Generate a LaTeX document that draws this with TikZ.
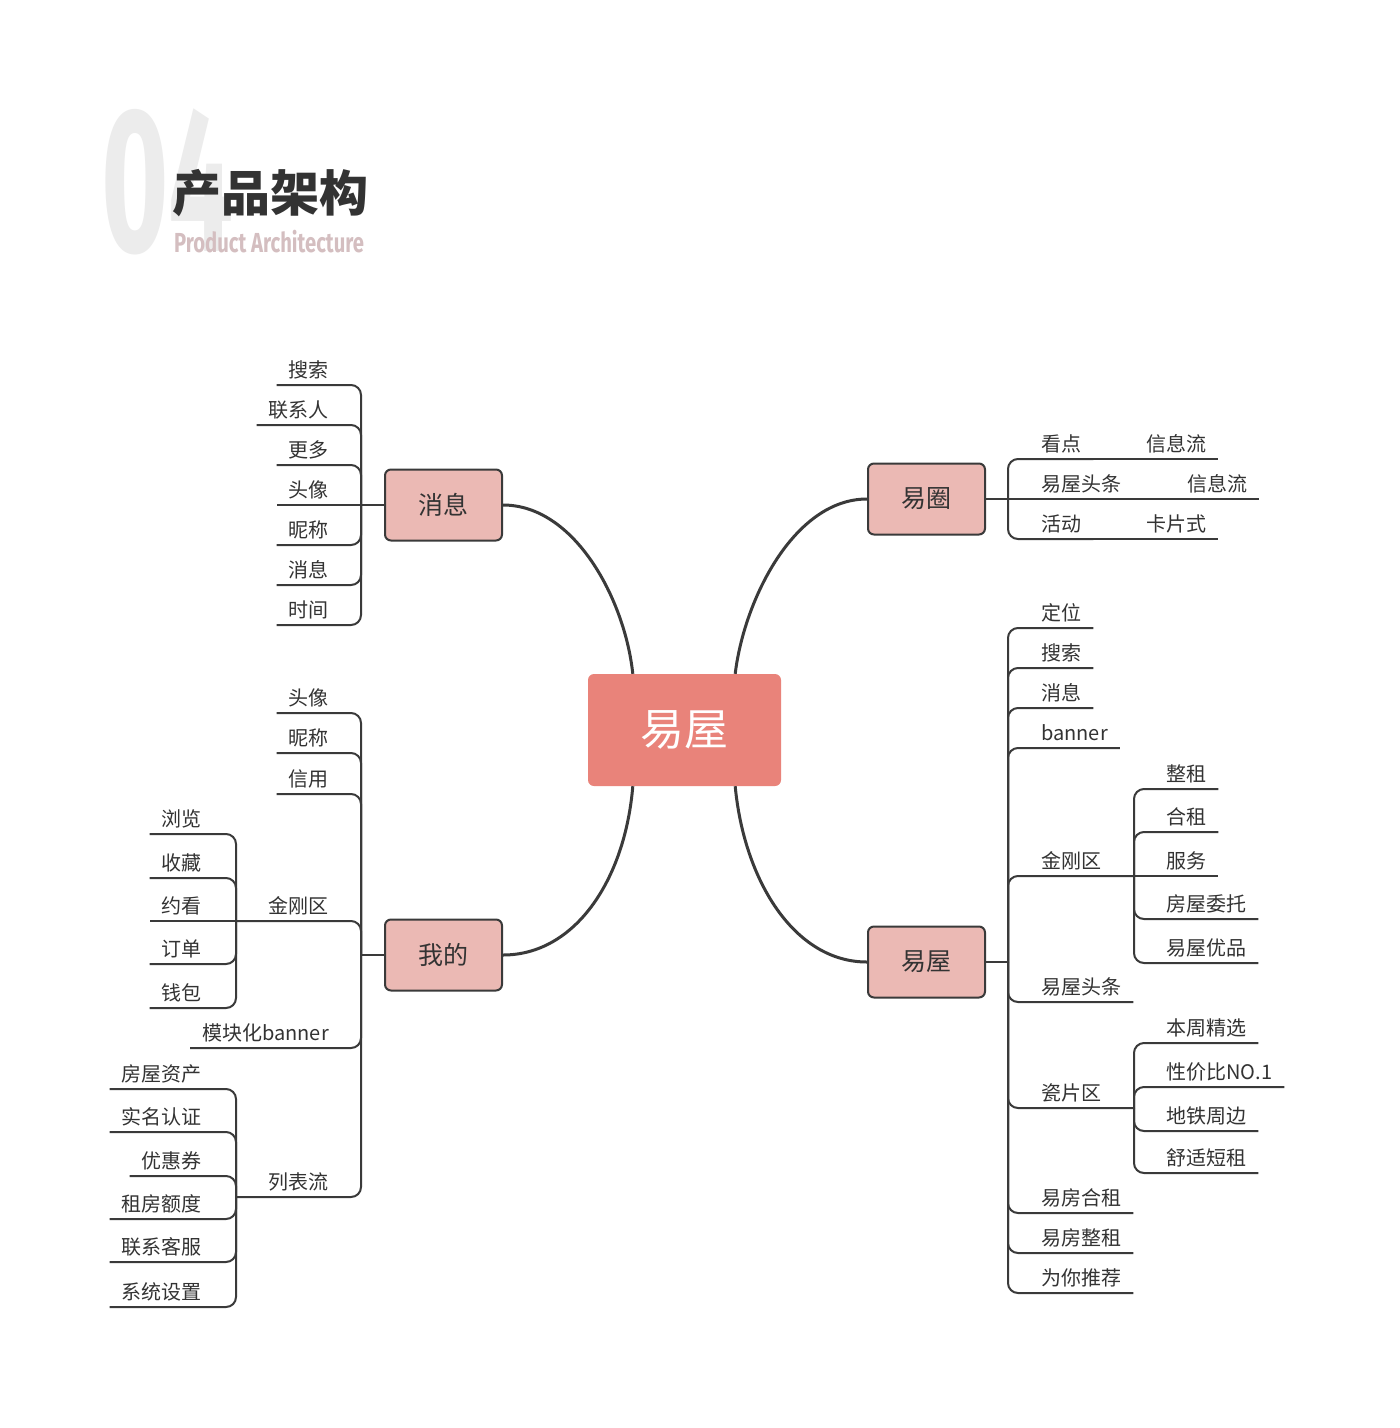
\documentclass[tikz,border=0pt]{standalone}
\usepackage{fontspec}
\usepackage{graphicx}
\setmainfont{Noto Sans CJK SC}
\newfontfamily\latinfont{Fira Sans}
\usepackage{tikz}
\definecolor{hubred}{RGB}{233, 131, 122}
\definecolor{topicpink}{RGB}{235, 185, 180}
\definecolor{linegray}{RGB}{58, 58, 58}
\definecolor{textgray}{RGB}{51, 51, 51}
\definecolor{numgray}{RGB}{236, 236, 236}
\definecolor{subpink}{RGB}{212, 190, 192}

\begin{document}
\begin{tikzpicture}[
    x=1pt, y=-1pt,
    hub/.style={rectangle, rounded corners=6pt, fill=hubred, text=white, minimum width=193pt, minimum height=112pt, font=\fontsize{44}{50}\selectfont},
    topic/.style={rectangle, rounded corners=6pt, draw=linegray, line width=2pt, fill=topicpink, text=textgray, minimum width=117pt, minimum height=71pt, font=\fontsize{25}{30}\selectfont},
    leafl/.style={anchor=south east, inner xsep=12pt, inner ysep=3pt, text height=17pt, text depth=4pt, text=textgray, font=\fontsize{20}{24}\selectfont},
    leafr/.style={leafl, anchor=south west},
    branch/.style={draw=linegray, line width=2pt, rounded corners=10pt},
    curve/.style={draw=linegray, line width=3pt}
]
\fill[white] (0,0) rectangle (1400,1428);
\useasboundingbox (0,0) rectangle (1400,1428);
\node[anchor=south west, inner sep=0pt, text=numgray, font=\latinfont\bfseries\fontsize{206}{206}\selectfont] (num) at (101,255) {\scalebox{0.56}[1]{04}};
\node[anchor=base west, inner sep=0pt, text=textgray, font=\bfseries\fontsize{49}{49}\selectfont] (title) at (172,211) {产品架构};
\node[anchor=base west, inner sep=0pt, text=subpink, font=\latinfont\bfseries\fontsize{27.5}{28}\selectfont] (subtitle) at (174,252) {\scalebox{0.735}[1]{Product Architecture}};
\node[hub] (c) at (684.5,730) {易屋};
\node[topic] (msg) at (443.5,505) {消息};
\node[topic] (circle) at (926.5,499) {易圈};
\node[topic] (mine) at (443.5,955) {我的};
\node[topic] (home) at (926.5,962) {易屋};
\coordinate (ctl) at ([xshift=45pt]c.north west);
\coordinate (ctr) at ([xshift=-46pt]c.north east);
\coordinate (cbl) at ([xshift=45pt]c.south west);
\coordinate (cbr) at ([xshift=-46pt]c.south east);
\draw[curve] (msg.east) .. controls (575,505) and (625,600) .. (ctl);
\draw[curve] (ctr) .. controls (744,600) and (794,499) .. (circle.west);
\draw[curve] (cbl) .. controls (625,880) and (575,955) .. (mine.east);
\draw[curve] (cbr) .. controls (744,880) and (794,962) .. (home.west);
\coordinate (msg_j) at (361,505);
\coordinate (mine_j) at (361,955);
\coordinate (circle_j) at (1008,499);
\coordinate (home_j) at (1008,962);
\coordinate (mine_kj) at (236,921);
\coordinate (mine_lj) at (236,1197);
\coordinate (home_kj) at (1134,876);
\coordinate (home_tj) at (1134,1108);
\draw[branch] (msg.west) -- (msg_j);
\draw[branch] (mine.west) -- (mine_j);
\draw[branch] (circle.east) -- (circle_j);
\draw[branch] (home.east) -- (home_j);
\node[leafl] (msg_search) at (341,385) {搜索};
\node[leafl] (msg_contact) at (341,425) {联系人};
\node[leafl] (msg_more) at (341,465) {更多};
\node[leafl] (msg_avatar) at (341,505) {头像};
\node[leafl] (msg_nick) at (341,545) {昵称};
\node[leafl] (msg_msg) at (341,585) {消息};
\node[leafl] (msg_time) at (341,625) {时间};
\draw[branch] (msg_j) |- (msg_search.south west); \draw[branch] (msg_j) |- (msg_contact.south west);
\draw[branch] (msg_j) |- (msg_more.south west); \draw[branch] (msg_j) -- (msg_avatar.south west);
\draw[branch] (msg_j) |- (msg_nick.south west); \draw[branch] (msg_j) |- (msg_msg.south west);
\draw[branch] (msg_j) |- (msg_time.south west);
\node[leafl] (mine_avatar) at (341,713) {头像};
\node[leafl] (mine_nick) at (341,753) {昵称};
\node[leafl] (mine_credit) at (341,794) {信用};
\node[leafl] (mine_kingkong) at (341,921) {金刚区};
\node[leafl] (mine_banner) at (341,1048) {模块化banner};
\node[leafl] (mine_list) at (341,1197) {列表流};
\draw[branch] (mine_j) |- (mine_avatar.south west); \draw[branch] (mine_j) |- (mine_nick.south west);
\draw[branch] (mine_j) |- (mine_credit.south west); \draw[branch] (mine_j) |- (mine_kj);
\draw[branch] (mine_j) |- (mine_banner.south west); \draw[branch] (mine_j) |- (mine_lj);
\node[leafl] (mine_browse) at (214,834) {浏览};
\node[leafl] (mine_fav) at (214,878) {收藏};
\node[leafl] (mine_view) at (214,921) {约看};
\node[leafl] (mine_order) at (214,964) {订单};
\node[leafl] (mine_wallet) at (214,1008) {钱包};
\draw[branch] (mine_kj) |- (mine_browse.south west); \draw[branch] (mine_kj) |- (mine_fav.south west);
\draw[branch] (mine_kj) -- (mine_view.south west); \draw[branch] (mine_kj) |- (mine_order.south west);
\draw[branch] (mine_kj) |- (mine_wallet.south west);
\node[leafl] (mine_asset) at (214,1089) {房屋资产};
\node[leafl] (mine_realname) at (214,1132) {实名认证};
\node[leafl] (mine_coupon) at (214,1176) {优惠券};
\node[leafl] (mine_quota) at (214,1219) {租房额度};
\node[leafl] (mine_service) at (214,1262) {联系客服};
\node[leafl] (mine_setting) at (214,1307) {系统设置};
\draw[branch] (mine_lj) |- (mine_asset.south west); \draw[branch] (mine_lj) |- (mine_realname.south west);
\draw[branch] (mine_lj) |- (mine_coupon.south west); \draw[branch] (mine_lj) |- (mine_quota.south west);
\draw[branch] (mine_lj) |- (mine_service.south west); \draw[branch] (mine_lj) |- (mine_setting.south west);
\node[leafr] (circle_focus) at (1029,459) {看点};
\node[leafr] (circle_news) at (1029,499) {易屋头条};
\node[leafr] (circle_event) at (1029,539) {活动};
\node[leafr] (circle_feed1) at (1134,459) {信息流};
\node[leafr] (circle_feed2) at (1175,499) {信息流};
\node[leafr] (circle_card) at (1134,539) {卡片式};
\draw[branch] (circle_j) |- (circle_focus.south east); \draw[branch] (circle_j) -- (circle_news.south east);
\draw[branch] (circle_j) |- (circle_event.south east);
\draw[branch] (circle_focus.south east) -- (circle_feed1.south east);
\draw[branch] (circle_news.south east) -- (circle_feed2.south east);
\draw[branch] (circle_event.south east) -- (circle_card.south east);
\node[leafr] (home_loc) at (1029,628) {定位};
\node[leafr] (home_search) at (1029,668) {搜索};
\node[leafr] (home_msg) at (1029,708) {消息};
\node[leafr] (home_banner) at (1029,748) {banner};
\node[leafr] (home_kingkong) at (1029,876) {金刚区};
\node[leafr] (home_news) at (1029,1002) {易屋头条};
\node[leafr] (home_tile) at (1029,1108) {瓷片区};
\node[leafr] (home_shared) at (1029,1213) {易房合租};
\node[leafr] (home_whole) at (1029,1253) {易房整租};
\node[leafr] (home_rec) at (1029,1293) {为你推荐};
\draw[branch] (home_j) |- (home_loc.south east); \draw[branch] (home_j) |- (home_search.south east);
\draw[branch] (home_j) |- (home_msg.south east); \draw[branch] (home_j) |- (home_banner.south east);
\draw[branch] (home_j) |- (home_kj); \draw[branch] (home_j) |- (home_news.south east);
\draw[branch] (home_j) |- (home_tj); \draw[branch] (home_j) |- (home_shared.south east);
\draw[branch] (home_j) |- (home_whole.south east); \draw[branch] (home_j) |- (home_rec.south east);
\node[leafr] (home_whole2) at (1154,789) {整租};
\node[leafr] (home_shared2) at (1154,832) {合租};
\node[leafr] (home_svc) at (1154,876) {服务};
\node[leafr] (home_entrust) at (1154,919) {房屋委托};
\node[leafr] (home_select) at (1154,963) {易屋优品};
\draw[branch] (home_kj) |- (home_whole2.south east); \draw[branch] (home_kj) |- (home_shared2.south east);
\draw[branch] (home_kj) -- (home_svc.south east); \draw[branch] (home_kj) |- (home_entrust.south east);
\draw[branch] (home_kj) |- (home_select.south east);
\node[leafr] (home_week) at (1154,1043) {本周精选};
\node[leafr] (home_value) at (1154,1087) {性价比NO.1};
\node[leafr] (home_metro) at (1154,1131) {地铁周边};
\node[leafr] (home_short) at (1154,1173) {舒适短租};
\draw[branch] (home_tj) |- (home_week.south east); \draw[branch] (home_tj) |- (home_value.south east);
\draw[branch] (home_tj) |- (home_metro.south east); \draw[branch] (home_tj) |- (home_short.south east);
\end{tikzpicture}
\end{document}
